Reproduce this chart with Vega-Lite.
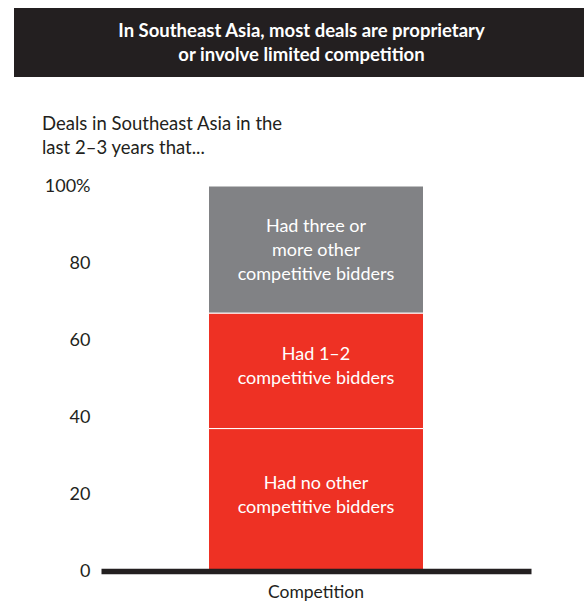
{
  "$schema": "https://vega.github.io/schema/vega-lite/v6.json",
  "padding": {"left": 14, "top": 8, "right": 0, "bottom": 0},
  "background": "white",
  "config": {"font": "Lato", "view": {"stroke": null}},
  "spacing": 38,
  "vconcat": [
    {
      "width": 575,
      "height": 69,
      "view": {"fill": "#231f20", "stroke": null},
      "data": {"values": [{"headline": "In Southeast Asia, most deals are proprietary\nor involve limited competition"}]},
      "mark": {"type": "text", "lineBreak": "\n", "color": "white", "fontSize": 18.5, "fontWeight": "bold", "lineHeight": 24, "align": "center", "baseline": "middle", "dy": -12},
      "encoding": {"text": {"field": "headline"}}
    },
    {
      "spacing": 0,
      "hconcat": [
        {
          "width": 0,
          "height": 0,
          "data": {"values": [{"blank": ""}]},
          "mark": {"type": "text"},
          "encoding": {"text": {"field": "blank"}}
        },
        {
          "width": 430,
          "height": 385,
          "title": {
            "text": ["Deals in Southeast Asia in the", "last 2–3 years that..."],
            "anchor": "start",
            "frame": "bounds",
            "dx": 8,
            "fontSize": 18.5,
            "fontWeight": "normal",
            "color": "#231f20",
            "lineHeight": 23.5,
            "offset": 20
          },
          "data": {"values": [
            {"competition": "Competition", "tier": "none", "label": "Had no other\ncompetitive bidders", "share": 37, "order": 1},
            {"competition": "Competition", "tier": "1–2", "label": "Had 1–2\ncompetitive bidders", "share": 30, "order": 2},
            {"competition": "Competition", "tier": "3+", "label": "Had three or\nmore other\ncompetitive bidders", "share": 33, "order": 3}
          ]},
          "transform": [
            {"stack": "share", "groupby": ["competition"], "sort": [{"field": "order", "order": "ascending"}], "as": ["y0", "y1"]},
            {"calculate": "(datum.y0 + datum.y1) / 2", "as": "mid"}
          ],
          "encoding": {
            "x": {
              "field": "competition",
              "type": "nominal",
              "scale": {"paddingInner": 0, "paddingOuter": 0},
              "axis": {
                "title": null,
                "labelAngle": 0,
                "domain": true,
                "domainColor": "#231f20",
                "domainWidth": 5.5,
                "ticks": false,
                "labelFontSize": 17.5,
                "labelColor": "#231f20",
                "labelPadding": 12,
                "zindex": 1
              }
            }
          },
          "layer": [
            {
              "mark": {"type": "bar", "width": {"band": 0.5}, "stroke": "white", "strokeWidth": 1},
              "encoding": {
                "y": {
                  "field": "y0",
                  "type": "quantitative",
                  "scale": {"domain": [0, 100], "nice": false},
                  "axis": {
                    "title": null,
                    "values": [0, 20, 40, 60, 80, 100],
                    "labelExpr": "datum.value == 100 ? '100%' : datum.label",
                    "domain": false,
                    "grid": false,
                    "ticks": true,
                    "tickSize": 67,
                    "tickOpacity": 0,
                    "labelPadding": -56,
                    "labelFontSize": 18,
                    "labelColor": "#231f20"
                  }
                },
                "y2": {"field": "y1"},
                "color": {
                  "field": "tier",
                  "type": "nominal",
                  "scale": {"domain": ["none", "1–2", "3+"], "range": ["#ee3124", "#ee3124", "#818285"]},
                  "legend": null
                }
              }
            },
            {
              "transform": [{"filter": "datum.tier !== '3+'"}],
              "mark": {"type": "text", "lineBreak": "\n", "color": "white", "fontSize": 18, "lineHeight": 24, "align": "center", "baseline": "middle", "dy": -16},
              "encoding": {
                "y": {"field": "mid", "type": "quantitative"},
                "text": {"field": "label"}
              }
            },
            {
              "transform": [{"filter": "datum.tier === '3+'"}],
              "mark": {"type": "text", "lineBreak": "\n", "color": "white", "fontSize": 18, "lineHeight": 24, "align": "center", "baseline": "middle", "dy": -23},
              "encoding": {
                "y": {"field": "mid", "type": "quantitative"},
                "text": {"field": "label"}
              }
            }
          ]
        }
      ]
    }
  ]
}
